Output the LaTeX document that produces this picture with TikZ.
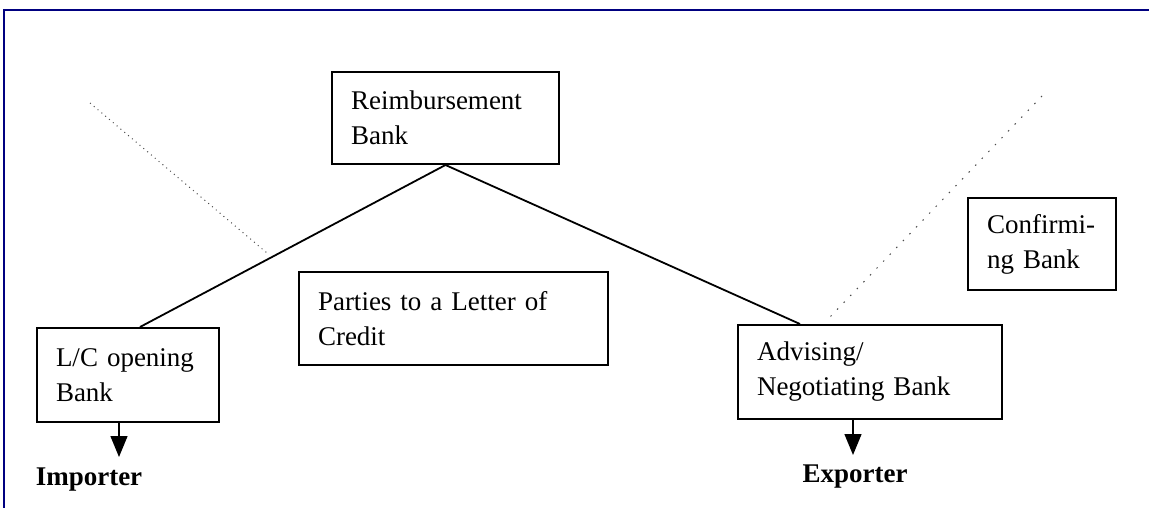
\documentclass[tikz,border=0pt]{standalone}
\usepackage{fontspec}
\setmainfont{Liberation Serif}
\usetikzlibrary{arrows.meta}
\definecolor{framenavy}{RGB}{0,0,128}
\begin{document}
\begin{tikzpicture}[x=1pt,y=-1pt,
  boxnode/.style={draw,line width=2pt,align=left,inner xsep=19pt,inner ysep=0pt,
    font=\fontsize{27}{35}\selectfont},
  partylabel/.style={font=\fontsize{27}{30}\selectfont\bfseries,inner sep=0pt},
  link/.style={line width=1.8pt},
  down/.style={line width=1.4pt,-{Triangle[width=17pt,length=21pt]}},
  faint/.style={line width=1pt,black!70}]
\useasboundingbox (0,0) rectangle (1149,508);
% frame
\draw[framenavy,line width=2pt] (3.5,508) -- (3.5,10) -- (1149,10);
% boxes
\node[boxnode,text width=189pt,minimum height=92pt] (reimb) at (445.5,118) {Reimbursement\\Bank};
\node[boxnode,text width=271pt,minimum height=93pt] (parties) at (453.5,318.5) {Parties to a Letter of\\Credit};
\node[boxnode,text width=144pt,minimum height=94pt] (lc) at (128,375) {L/C opening\\Bank};
\node[boxnode,text width=226pt,minimum height=94pt] (adv) at (870,372) {Advising/\\Negotiating Bank};
\node[boxnode,text width=110pt,minimum height=92pt] (conf) at (1042,244) {Confirmi-\\ng Bank};
% labels
\node[partylabel] (imp) at (89,480) {Importer};
\node[partylabel] (exp) at (855,477) {Exporter};
% connectors
\draw[link] (reimb.south) -- ([xshift=12pt]lc.north);
\draw[link] (reimb.south) -- ([xshift=-70pt]adv.north);
\coordinate (impTip) at (119,457);
\coordinate (expTip) at (853,455);
\draw[down] ([xshift=-9pt]lc.south) -- (impTip);
\draw[down] ([xshift=-17pt]adv.south) -- (expTip);
% faint dotted traces
\coordinate (dl1) at (90,103);
\coordinate (dl2) at (267,253);
\coordinate (dr1) at (1042,96);
\coordinate (dr2) at (830,317);
\draw[faint,dash pattern=on 1pt off 4pt] (dl1) -- (dl2);
\draw[faint,dash pattern=on 1.5pt off 8pt] (dr1) -- (dr2);
\end{tikzpicture}
\end{document}
